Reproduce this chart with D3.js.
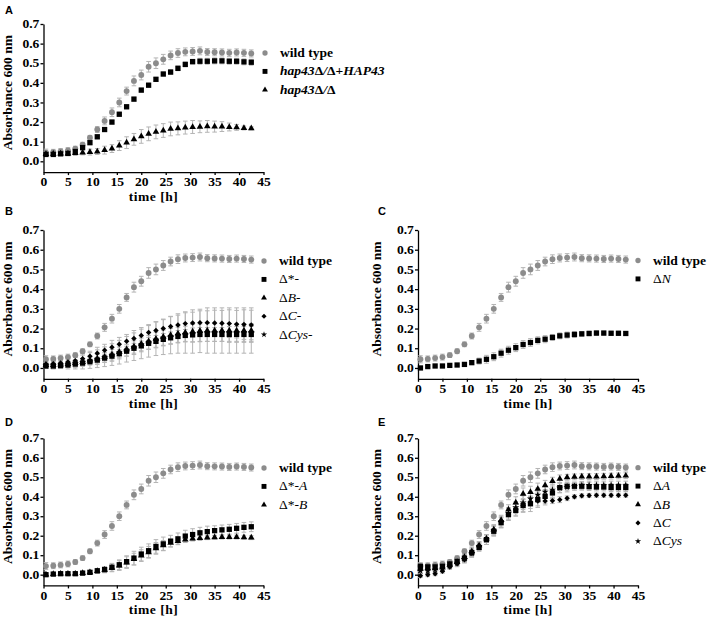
<!DOCTYPE html>
<html><head><meta charset="utf-8">
<script src="https://cdn.jsdelivr.net/npm/d3@7"></script>
<style>body{margin:0;background:#fff} svg{display:block}</style>
</head><body><svg id="chart" width="708" height="622"></svg>
<script>
// ---------- data ----------
const time = [0.5,2,3.5,5,6.5,8,9.5,11,12.5,14,15.5,17,18.5,20,21.5,23,24.5,26,27.5,29,30.5,32,33.5,35,36.5,38,39.5,41,42.5];
const xTicks = [0,5,10,15,20,25,30,35,40,45];
const yTicks = [0,0.1,0.2,0.3,0.4,0.5,0.6,0.7];

const wildType    = [0.044,0.046,0.05,0.055,0.065,0.085,0.12,0.162,0.206,0.25,0.30,0.358,0.41,0.44,0.482,0.50,0.52,0.54,0.552,0.558,0.56,0.563,0.557,0.556,0.555,0.553,0.555,0.553,0.55];
const wildTypeErr = [0.018,0.015,0.015,0.015,0.012,0.012,0.012,0.015,0.02,0.022,0.022,0.02,0.025,0.025,0.027,0.027,0.025,0.022,0.022,0.02,0.02,0.02,0.018,0.018,0.018,0.018,0.018,0.018,0.018];

// panel A
const hapComp    = [0.035,0.035,0.038,0.04,0.05,0.07,0.095,0.125,0.162,0.2,0.24,0.278,0.317,0.363,0.388,0.418,0.445,0.455,0.474,0.494,0.508,0.51,0.51,0.512,0.512,0.51,0.51,0.507,0.505];
const hapCompErr = [0.01,0.008,0.008,0.008,0.008,0.008,0.01,0.01,0.01,0.01,0.01,0.01,0.01,0.01,0.01,0.01,0.01,0.012,0.012,0.012,0.012,0.015,0.015,0.015,0.015,0.015,0.015,0.015,0.015];
const hapNull    = [0.037,0.038,0.04,0.04,0.042,0.045,0.047,0.05,0.057,0.065,0.08,0.095,0.112,0.127,0.14,0.15,0.157,0.165,0.168,0.172,0.175,0.176,0.178,0.177,0.177,0.175,0.173,0.17,0.168];
const hapNullErr = [0.01,0.01,0.01,0.01,0.012,0.012,0.015,0.015,0.02,0.02,0.025,0.03,0.03,0.035,0.035,0.035,0.035,0.035,0.033,0.033,0.033,0.03,0.03,0.028,0.025,0.02,0.015,0.01,0.008];

// panel B
const bStar    = [0.01,0.01,0.012,0.015,0.02,0.025,0.032,0.04,0.05,0.06,0.072,0.085,0.1,0.112,0.125,0.135,0.145,0.153,0.16,0.165,0.168,0.17,0.17,0.17,0.17,0.17,0.17,0.17,0.17];
const bStarErr = [0.01,0.01,0.01,0.01,0.012,0.012,0.015,0.015,0.02,0.02,0.02,0.025,0.025,0.025,0.03,0.03,0.03,0.03,0.03,0.03,0.035,0.035,0.035,0.035,0.035,0.04,0.04,0.04,0.04];
const bB       = [0.015,0.015,0.017,0.02,0.025,0.03,0.038,0.047,0.057,0.068,0.08,0.095,0.108,0.122,0.135,0.148,0.158,0.167,0.175,0.18,0.185,0.188,0.19,0.19,0.19,0.19,0.19,0.19,0.19];
const bBErr    = [0.015,0.02,0.02,0.025,0.03,0.035,0.04,0.045,0.05,0.055,0.06,0.065,0.07,0.075,0.08,0.085,0.09,0.095,0.1,0.105,0.11,0.11,0.115,0.115,0.115,0.115,0.115,0.115,0.115];
const bC       = [0.02,0.022,0.025,0.03,0.037,0.047,0.06,0.075,0.09,0.105,0.12,0.135,0.15,0.165,0.18,0.19,0.2,0.21,0.218,0.225,0.228,0.23,0.23,0.228,0.227,0.225,0.222,0.22,0.218];
const bCErr    = [0.015,0.015,0.02,0.02,0.02,0.025,0.025,0.03,0.03,0.035,0.035,0.035,0.04,0.04,0.04,0.045,0.045,0.05,0.05,0.055,0.055,0.06,0.06,0.065,0.065,0.07,0.07,0.075,0.075];
const bCys     = [0.012,0.012,0.015,0.018,0.022,0.028,0.035,0.043,0.053,0.064,0.076,0.09,0.103,0.117,0.13,0.142,0.152,0.16,0.167,0.172,0.176,0.178,0.18,0.18,0.18,0.18,0.18,0.18,0.18];
const bCysErr  = [0.015,0.015,0.015,0.015,0.02,0.02,0.02,0.025,0.025,0.03,0.03,0.03,0.035,0.035,0.035,0.04,0.04,0.04,0.04,0.04,0.045,0.045,0.045,0.045,0.045,0.045,0.045,0.045,0.045];

// panel C
const cN    = [0.0,0.007,0.01,0.01,0.013,0.015,0.018,0.027,0.035,0.044,0.057,0.075,0.09,0.103,0.119,0.129,0.14,0.146,0.155,0.163,0.167,0.17,0.173,0.175,0.177,0.177,0.176,0.176,0.175];
const cNErr = [0.005,0.005,0.005,0.005,0.005,0.005,0.008,0.01,0.015,0.02,0.02,0.02,0.02,0.02,0.02,0.02,0.018,0.018,0.015,0.015,0.015,0.015,0.012,0.012,0.012,0.01,0.01,0.01,0.01];

// panel D
const dA    = [0.0,0.003,0.005,0.005,0.005,0.008,0.012,0.02,0.026,0.038,0.051,0.067,0.085,0.106,0.123,0.145,0.158,0.172,0.184,0.198,0.206,0.215,0.221,0.226,0.23,0.233,0.238,0.243,0.246];
const dAErr = [0.005,0.005,0.005,0.005,0.005,0.008,0.01,0.012,0.015,0.02,0.025,0.03,0.035,0.035,0.035,0.035,0.035,0.03,0.03,0.03,0.03,0.028,0.028,0.025,0.025,0.025,0.025,0.025,0.025];
const dB    = [0.0,0.003,0.005,0.005,0.005,0.008,0.012,0.018,0.025,0.035,0.047,0.062,0.08,0.098,0.115,0.135,0.15,0.163,0.172,0.18,0.185,0.188,0.19,0.192,0.193,0.193,0.193,0.192,0.19];
const dBErr = [0.005,0.005,0.005,0.005,0.005,0.008,0.01,0.012,0.015,0.02,0.025,0.03,0.03,0.03,0.03,0.03,0.025,0.02,0.015,0.015,0.012,0.012,0.01,0.01,0.01,0.01,0.01,0.01,0.01];

// panel E
const eA     = [0.043,0.04,0.04,0.043,0.055,0.068,0.085,0.113,0.14,0.18,0.223,0.267,0.308,0.33,0.355,0.364,0.385,0.402,0.42,0.447,0.454,0.454,0.454,0.452,0.45,0.45,0.447,0.447,0.447];
const eAErr  = [0.015,0.015,0.015,0.015,0.015,0.015,0.02,0.02,0.02,0.025,0.025,0.025,0.03,0.03,0.035,0.04,0.04,0.035,0.03,0.025,0.02,0.02,0.02,0.02,0.02,0.02,0.02,0.02,0.02];
const eB     = [0.03,0.032,0.033,0.036,0.05,0.065,0.09,0.12,0.15,0.185,0.232,0.28,0.334,0.37,0.415,0.424,0.44,0.459,0.48,0.492,0.5,0.502,0.503,0.503,0.504,0.505,0.506,0.507,0.508];
const eBErr  = [0.015,0.015,0.015,0.015,0.015,0.015,0.015,0.02,0.02,0.02,0.025,0.025,0.025,0.03,0.03,0.03,0.03,0.025,0.02,0.02,0.015,0.015,0.015,0.015,0.015,0.015,0.015,0.015,0.015];
const eC     = [-0.005,0.0,0.005,0.018,0.04,0.056,0.077,0.11,0.148,0.18,0.228,0.27,0.31,0.335,0.355,0.37,0.378,0.378,0.38,0.385,0.392,0.4,0.405,0.407,0.408,0.408,0.408,0.408,0.408];
const eCErr  = [0.01,0.01,0.01,0.01,0.012,0.015,0.015,0.02,0.02,0.025,0.025,0.025,0.03,0.03,0.03,0.03,0.025,0.02,0.015,0.015,0.012,0.01,0.01,0.01,0.01,0.01,0.01,0.01,0.01];
const eCys   = [0.02,0.02,0.025,0.03,0.045,0.06,0.08,0.11,0.145,0.18,0.225,0.27,0.315,0.345,0.37,0.39,0.41,0.425,0.435,0.445,0.45,0.455,0.458,0.46,0.46,0.46,0.46,0.46,0.46];
const eCysErr= [0.015,0.015,0.015,0.015,0.015,0.015,0.02,0.02,0.02,0.025,0.025,0.03,0.03,0.03,0.035,0.035,0.035,0.03,0.03,0.025,0.025,0.02,0.02,0.02,0.02,0.02,0.02,0.02,0.02];

// legend labels: segments [text, italic]
const labelWild = [["wild type", false]];
const labelsA = [[["hap43",true],["Δ",false],["/",true],["Δ",false],["+",false],["HAP43",true]],
                 [["hap43",true],["Δ",false],["/",true],["Δ",false]]];
const labelsB = [[["Δ*-",false]],[["Δ",false],["B",true],["-",false]],[["Δ",false],["C",true],["-",false]],[["Δ",false],["Cys",true],["-",false]]];
const labelsC = [[["Δ",false],["N",true]]];
const labelsD = [[["Δ*-",false],["A",true]],[["Δ*-",false],["B",true]]];
const labelsE = [[["Δ",false],["A",true]],[["Δ",false],["B",true]],[["Δ",false],["C",true]],[["Δ",false],["Cys",true]]];

// ---------- drawing ----------
const GREY = "#8c8c8c", BAR = "#b4b4b4", BLACK = "#000";
const SERIF = "'Liberation Serif','Times New Roman',serif";
const SANS = "'Liberation Sans',Arial,sans-serif";
const WIDE = "scale(1.18,1)";
const diamondPath = d3.symbol().type(d3.symbolSquare).size(15)();
const SYM = {
  circle: {d: d3.symbol().type(d3.symbolCircle).size(27)(), rot: 0},
  square: {d: d3.symbol().type(d3.symbolSquare).size(28)(), rot: 0},
  triangle: {d: d3.symbol().type(d3.symbolTriangle).size(19)(), rot: 0},
  diamond: {d: diamondPath, rot: 45},
  star: {d: d3.symbol().type(d3.symbolStar).size(15)(), rot: 0}
};
const LSYM = {
  circle: {d: d3.symbol().type(d3.symbolCircle).size(22)(), rot: 0},
  square: {d: d3.symbol().type(d3.symbolSquare).size(24)(), rot: 0},
  triangle: {d: d3.symbol().type(d3.symbolTriangle).size(15)(), rot: 0},
  diamond: {d: d3.symbol().type(d3.symbolSquare).size(13)(), rot: 45},
  star: {d: d3.symbol().type(d3.symbolStar).size(12)(), rot: 0}
};
const wt = {v: wildType, e: wildTypeErr, sym: "circle", color: GREY, label: labelWild, bold: true};

const panels = [
  {letter:"A", lx:5, ly:14, left:43.5, right:263.5, top:24, base:172.1, titleX:8, legX:265, legY:53,
   series:[wt, {v:hapComp,e:hapCompErr,sym:"square",color:BLACK,label:labelsA[0],bold:true},
               {v:hapNull,e:hapNullErr,sym:"triangle",color:BLACK,label:labelsA[1],bold:true}]},
  {letter:"B", lx:5, ly:215, left:43.5, right:263.5, top:230, base:378.8, titleX:8, legX:264, legY:261,
   series:[wt, {v:bStar,e:bStarErr,sym:"square",color:BLACK,label:labelsB[0]},
               {v:bB,e:bBErr,sym:"triangle",color:BLACK,label:labelsB[1]},
               {v:bC,e:bCErr,sym:"diamond",color:BLACK,label:labelsB[2]},
               {v:bCys,e:bCysErr,sym:"star",color:BLACK,label:labelsB[3]}]},
  {letter:"C", lx:378, ly:215, left:418, right:638, top:230, base:378.8, titleX:377, legX:638, legY:260.5,
   series:[wt, {v:cN,e:cNErr,sym:"square",color:BLACK,label:labelsC[0]}]},
  {letter:"D", lx:5, ly:426, left:43.5, right:263.5, top:438.3, base:585.4, titleX:8, legX:264, legY:468,
   series:[wt, {v:dA,e:dAErr,sym:"square",color:BLACK,label:labelsD[0]},
               {v:dB,e:dBErr,sym:"triangle",color:BLACK,label:labelsD[1]}]},
  {letter:"E", lx:378, ly:426, left:418, right:638, top:438.3, base:585.4, titleX:377, legX:638, legY:467.7,
   series:[wt, {v:eA,e:eAErr,sym:"square",color:BLACK,label:labelsE[0]},
               {v:eB,e:eBErr,sym:"triangle",color:BLACK,label:labelsE[1]},
               {v:eC,e:eCErr,sym:"diamond",color:BLACK,label:labelsE[2]},
               {v:eCys,e:eCysErr,sym:"star",color:BLACK,label:labelsE[3]}]}
];

const svg = d3.select("#chart");

panels.forEach(p => {
  const g = svg.append("g");
  const x = d3.scaleLinear().domain([0,45]).range([p.left, p.right]);
  const y = d3.scaleLinear().domain([-0.055,0.7]).range([p.base, p.top]);

  // panel letter
  g.append("text").attr("x", p.lx).attr("y", p.ly).text(p.letter)
    .attr("font-family", SANS).attr("font-weight", "bold").attr("font-size", 11);

  // axes
  const ya = g.append("g").attr("transform", `translate(${p.left},0)`)
    .call(d3.axisLeft(y).tickValues(yTicks).tickFormat(d3.format(".1f")).tickSize(3).tickSizeOuter(0).tickPadding(0.5));
  const xa = g.append("g").attr("transform", `translate(0,${p.base})`)
    .call(d3.axisBottom(x).tickValues(xTicks).tickSize(3).tickSizeOuter(0).tickPadding(3));
  [ya, xa].forEach(a => {
    a.selectAll("path,line").attr("stroke", "#000").attr("stroke-width", 1.3);
    a.selectAll("text").attr("font-family", SERIF).attr("font-weight", "bold")
      .attr("font-size", 11.5).attr("fill", "#000").attr("transform", WIDE);
  });

  // axis titles
  g.append("text").attr("transform", `translate(${p.titleX},${(y(0)+y(0.7))/2}) rotate(-90) ${WIDE}`)
    .attr("text-anchor", "middle").attr("dominant-baseline", "central")
    .attr("font-family", SERIF).attr("font-weight", "bold").attr("font-size", 11.5)
    .text("Absorbance 600 nm");
  g.append("text").attr("transform", `translate(${(p.left+p.right)/2},${p.base + 29}) ${WIDE}`)
    .attr("text-anchor", "middle")
    .attr("font-family", SERIF).attr("font-weight", "bold").attr("font-size", 11.5)
    .attr("letter-spacing", 0.4)
    .text("time [h]");

  // error bars (all series first)
  p.series.forEach(s => {
    const eb = g.append("g").attr("stroke", BAR).attr("stroke-width", 1).attr("fill", "none");
    time.forEach((t, i) => {
      const cx = x(t), y1 = y(s.v[i] + s.e[i]), y2 = y(s.v[i] - s.e[i]);
      eb.append("line").attr("x1", cx).attr("x2", cx).attr("y1", y1).attr("y2", y2);
      eb.append("line").attr("x1", cx-2.3).attr("x2", cx+2.3).attr("y1", y1).attr("y2", y1);
      eb.append("line").attr("x1", cx-2.3).attr("x2", cx+2.3).attr("y1", y2).attr("y2", y2);
    });
  });

  // markers
  p.series.forEach(s => {
    const sym = SYM[s.sym];
    g.append("g").selectAll("path").data(time).join("path")
      .attr("transform", (t, i) => `translate(${x(t)},${y(s.v[i])}) rotate(${sym.rot})`)
      .attr("d", sym.d).attr("fill", s.color);
  });

  // legend
  p.series.forEach((s, k) => {
    const ry = p.legY + k*18.4;
    const ls = LSYM[s.sym];
    g.append("path").attr("transform", `translate(${p.legX},${ry}) rotate(${ls.rot})`)
      .attr("d", ls.d).attr("fill", s.color);
    const tx = g.append("text").attr("transform", `translate(${p.legX + 15},${ry + 4}) ${WIDE}`)
      .attr("font-family", SERIF).attr("font-weight", s.bold ? "bold" : "normal").attr("font-size", 11.5);
    s.label.forEach(([txt, it]) => {
      tx.append("tspan").text(txt).attr("font-style", it ? "italic" : "normal");
    });
  });
});
</script>
</body></html>
